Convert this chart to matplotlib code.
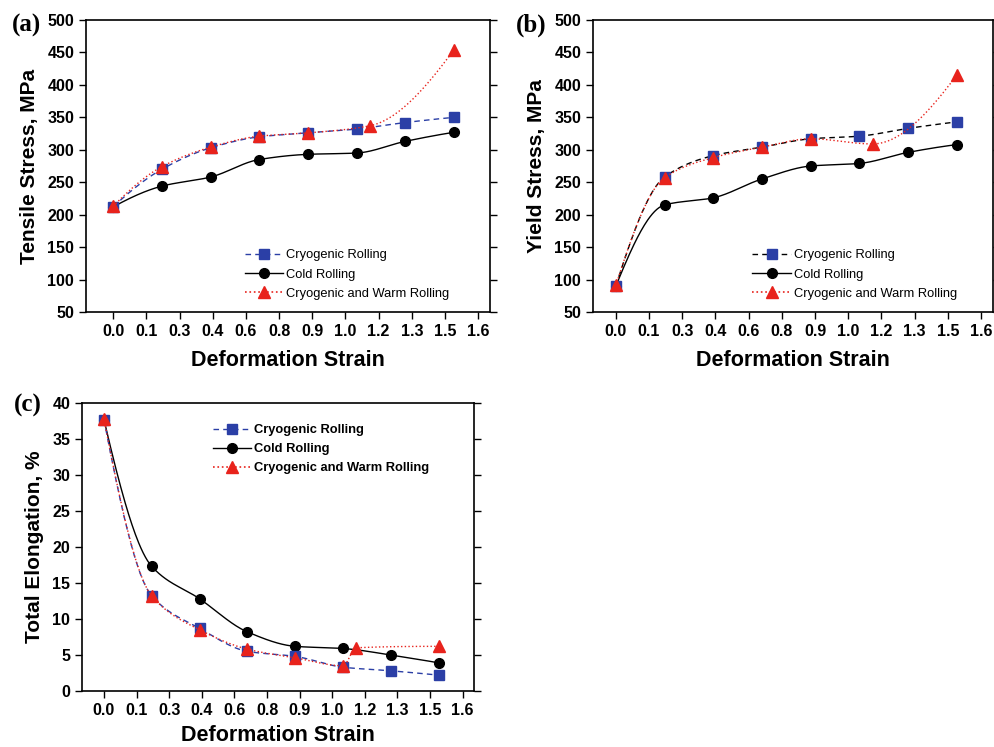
import matplotlib
matplotlib.use("Agg")
import matplotlib.pyplot as plt
import numpy as np

plt.rcParams['font.family'] = ['Liberation Sans', 'DejaVu Sans']

# strain values of the samples
strain = [0.0, 0.22, 0.44, 0.66, 0.88, 1.10, 1.32, 1.54]
strain_cwr = [0.0, 0.22, 0.44, 0.66, 0.88, 1.16, 1.54]
strain_cwr_el = [0.0, 0.22, 0.44, 0.66, 0.88, 1.10, 1.16, 1.54]

# tick labels as printed on the original axes
tick_labels = ['0.0', '0.1', '0.3', '0.4', '0.6', '0.8', '0.9', '1.0', '1.2', '1.3', '1.5', '1.6']

# (a) tensile stress, MPa
uts_cryo = [212, 270, 303, 320, 326, 332, 342, 350]
uts_cold = [212, 244, 258, 285, 293, 295, 313, 327]
uts_cwr = [213, 274, 304, 321, 326, 337, 454]

# (b) yield stress, MPa
ys_cryo = [90, 258, 291, 304, 317, 321, 333, 343]
ys_cold = [90, 215, 226, 255, 275, 279, 296, 308]
ys_cwr = [91, 257, 288, 304, 317, 309, 415]

# (c) total elongation, %
el_cryo = [37.7, 13.2, 8.7, 5.5, 4.8, 3.3, 2.8, 2.2]
el_cold = [37.7, 17.3, 12.8, 8.2, 6.2, 5.9, 5.0, 3.9]
el_cwr = [37.8, 13.2, 8.5, 5.8, 4.6, 3.5, 6.0, 6.2]

labels = ['Cryogenic Rolling', 'Cold Rolling', 'Cryogenic and Warm Rolling']
blue = '#2b3fa6'
red = '#e8231c'


def pchip(x, y, n=300):
    # monotone cubic curve through the points (smooth line like the original)
    x = np.asarray(x, float)
    y = np.asarray(y, float)
    h = np.diff(x)
    delta = np.diff(y) / h
    d = np.zeros_like(y)
    for k in range(1, len(x) - 1):
        if delta[k - 1] * delta[k] > 0:
            w1 = 2 * h[k] + h[k - 1]
            w2 = h[k] + 2 * h[k - 1]
            d[k] = (w1 + w2) / (w1 / delta[k - 1] + w2 / delta[k])

    def end(h0, h1, d0, d1):
        v = ((2 * h0 + h1) * d0 - h0 * d1) / (h0 + h1)
        if np.sign(v) != np.sign(d0):
            return 0.0
        if np.sign(d0) != np.sign(d1) and abs(v) > 3 * abs(d0):
            return 3 * d0
        return v

    d[0] = end(h[0], h[1], delta[0], delta[1])
    d[-1] = end(h[-1], h[-2], delta[-1], delta[-2])
    xs = np.linspace(x[0], x[-1], n)
    idx = np.clip(np.searchsorted(x, xs) - 1, 0, len(x) - 2)
    t = (xs - x[idx]) / h[idx]
    h00 = 2 * t**3 - 3 * t**2 + 1
    h10 = t**3 - 2 * t**2 + t
    h01 = -2 * t**3 + 3 * t**2
    h11 = t**3 - t**2
    ys = h00 * y[idx] + h10 * h[idx] * d[idx] + h01 * y[idx + 1] + h11 * h[idx] * d[idx + 1]
    return xs, ys


def draw_series(ax, x, y, ls, lc, marker, mc, ms):
    xs, ys = pchip(x, y)
    ax.plot(xs, ys, ls=ls, color=lc, lw=1.0)
    ax.plot(x, y, ls='none', marker=marker, color=mc, ms=ms, mec=mc)


def legend_handles(ax, cryo_line):
    h1, = ax.plot([], [], ls=(0, (4, 3)), color=cryo_line, lw=1.0, marker='s', mfc=blue, mec=blue, ms=7)
    h2, = ax.plot([], [], ls='-', color='black', lw=1.0, marker='o', mfc='black', ms=7)
    h3, = ax.plot([], [], ls=':', color=red, lw=1.2, marker='^', mfc=red, mec=red, ms=8)
    return [h1, h2, h3]


def style_axes(ax, xlim, ylim, yticks, ylabel, xpad=8):
    ax.set_xlim(*xlim)
    ax.set_ylim(*ylim)
    ax.set_xticks([i * 0.15 for i in range(len(tick_labels))])
    ax.set_xticklabels(tick_labels)
    ax.set_yticks(yticks)
    ax.tick_params(axis='both', direction='out', length=5, width=1, labelsize=11.5)
    ax.tick_params(axis='y', right=True, which='both')
    for lab in ax.get_xticklabels() + ax.get_yticklabels():
        lab.set_fontweight('bold')
    for s in ax.spines.values():
        s.set_linewidth(1.2)
    ax.set_ylabel(ylabel, fontsize=15, fontweight='bold', labelpad=6)
    ax.set_xlabel('Deformation Strain', fontsize=15.5, fontweight='bold', labelpad=xpad)


def legend(ax, handles, anchor, bold=False):
    prop = {'size': 9.3, 'weight': 'bold' if bold else 'normal'}
    ax.legend(handles, labels, loc='upper left', bbox_to_anchor=anchor, frameon=False,
              prop=prop, handlelength=3.0, handletextpad=0.2, labelspacing=0.55,
              borderaxespad=0)


W, H = 995, 747
fig = plt.figure(figsize=(W / 100, H / 100), dpi=100)

# (a)
ax1 = fig.add_axes([0.0864, 0.5823, 0.406, 0.3909])
draw_series(ax1, strain, uts_cold, '-', 'black', 'o', 'black', 7)
draw_series(ax1, strain, uts_cryo, (0, (4, 3)), blue, 's', blue, 7)
draw_series(ax1, strain_cwr, uts_cwr, ':', red, '^', red, 8)
style_axes(ax1, (-0.123, 1.703), (50, 500), np.arange(50, 501, 50), 'Tensile Stress, MPa')
legend(ax1, legend_handles(ax1, blue), (0.38, 0.232))

# (b)
ax2 = fig.add_axes([0.596, 0.5823, 0.402, 0.3909])
draw_series(ax2, strain, ys_cold, '-', 'black', 'o', 'black', 7)
draw_series(ax2, strain, ys_cryo, (0, (4, 3)), 'black', 's', blue, 7)
draw_series(ax2, strain_cwr, ys_cwr, ':', red, '^', red, 8)
style_axes(ax2, (-0.103, 1.704), (50, 500), np.arange(50, 501, 50), 'Yield Stress, MPa')
legend(ax2, legend_handles(ax2, 'black'), (0.385, 0.232))

# (c)
ax3 = fig.add_axes([0.0824, 0.075, 0.394, 0.3855])
draw_series(ax3, strain, el_cold, '-', 'black', 'o', 'black', 7)
draw_series(ax3, strain, el_cryo, (0, (4, 3)), blue, 's', blue, 7)
draw_series(ax3, strain_cwr_el, el_cwr, ':', red, '^', red, 8)
style_axes(ax3, (-0.101, 1.702), (0, 40), np.arange(0, 41, 5), 'Total Elongation, %', xpad=5)
legend(ax3, legend_handles(ax3, blue), (0.32, 0.945), bold=True)

# panel tags
for tag, px, py in [('(a)', 27, 25), ('(b)', 531, 25), ('(c)', 28, 405)]:
    fig.text(px / W, 1 - py / H, tag, fontsize=18, fontweight='bold',
             family='Liberation Serif', va='center', ha='center')

fig.savefig('out.png', dpi=100)
